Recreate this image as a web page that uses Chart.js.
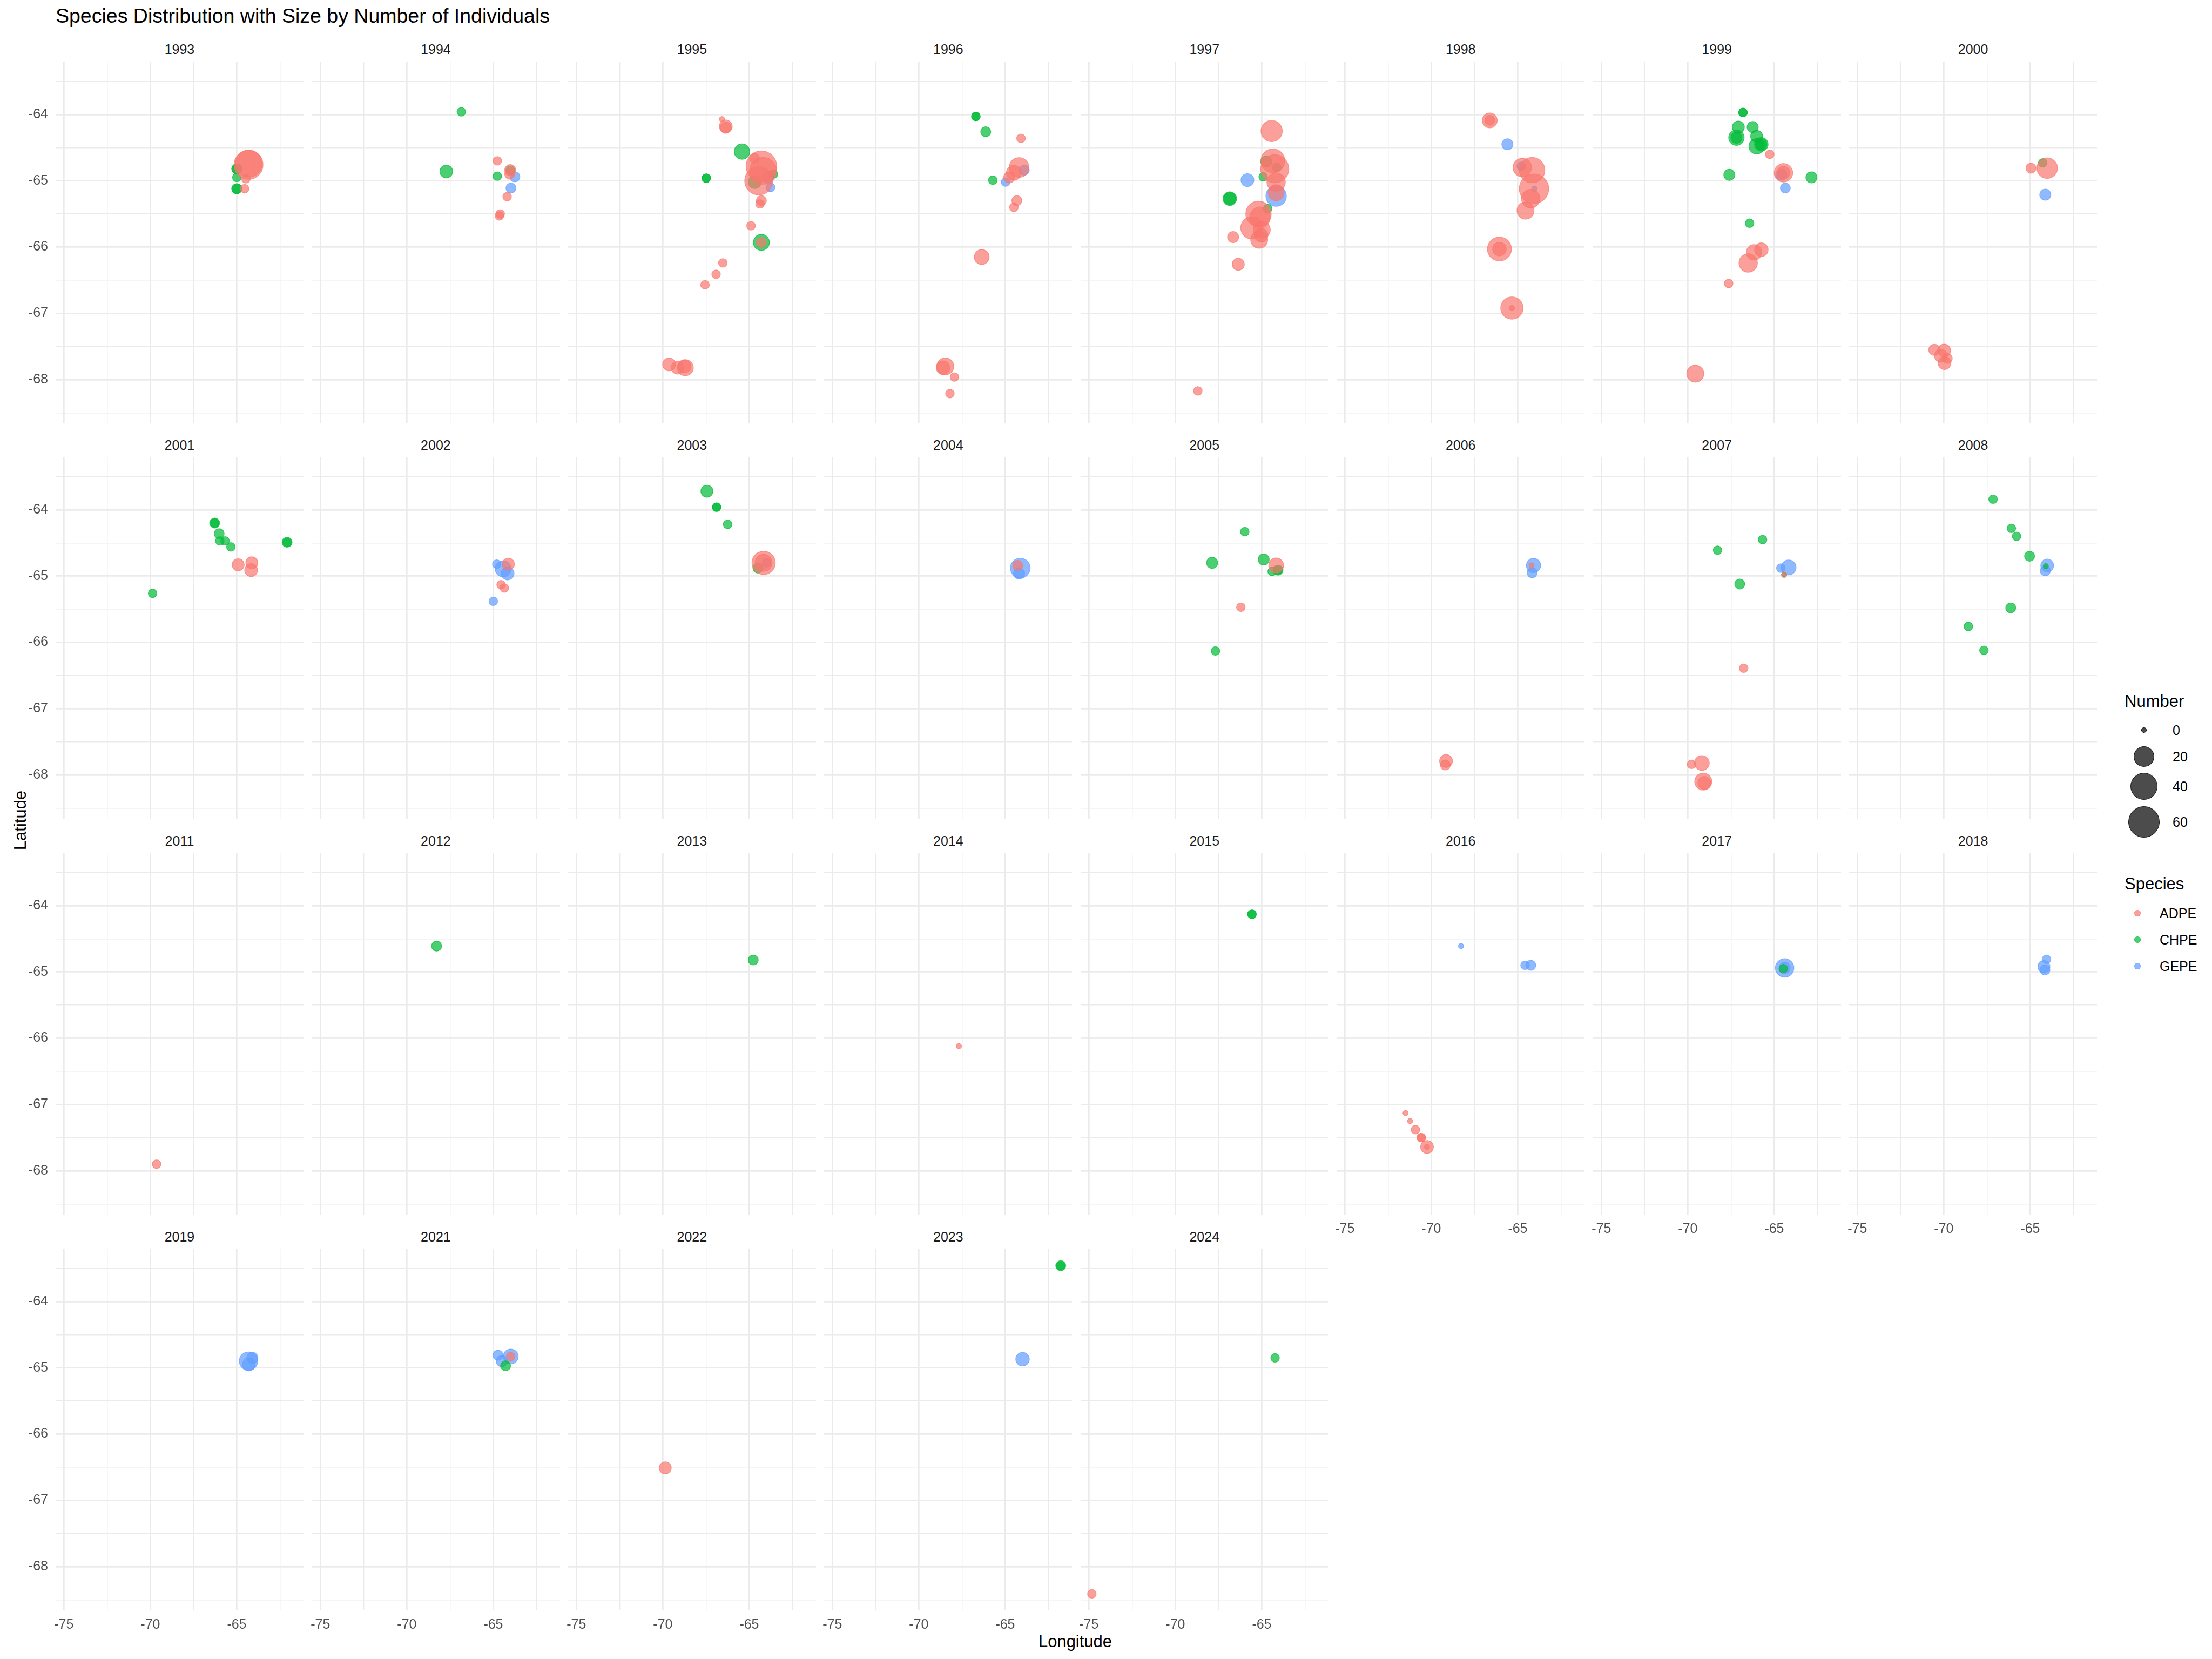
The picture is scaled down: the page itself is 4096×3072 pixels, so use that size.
<!DOCTYPE html>
<html><head><meta charset="utf-8">
<script src="https://cdn.jsdelivr.net/npm/chart.js@4.4.1/dist/chart.umd.min.js"></script>
<style>
html,body{margin:0;padding:0;background:#fff;}
#wrap{position:relative;width:4096px;height:3072px;overflow:hidden;background:#fff;font-family:"Liberation Sans",Arial,Helvetica,sans-serif;}
.t{position:absolute;white-space:nowrap;line-height:1;}
canvas{position:absolute;}
.key{position:absolute;border-radius:50%;box-sizing:border-box;}
</style></head><body><div id="wrap"></div>
<script>
// ---------------- DATA ----------------
const YEARS = [1993,1994,1995,1996,1997,1998,1999,2000,2001,2002,2003,2004,2005,2006,2007,2008,
               2011,2012,2013,2014,2015,2016,2017,2018,2019,2021,2022,2023,2024];
const SPECIES = ['ADPE','CHPE','GEPE'];
const LON_BREAKS = [-75,-70,-65];
const LON_MINOR = [-72.5,-67.5,-62.5];
const LAT_BREAKS = [-64,-65,-66,-67,-68];
const LAT_MINOR = [-63.5,-64.5,-65.5,-66.5,-67.5,-68.5];
const LON_LIMITS = [-75.48,-61.14];
const LAT_LIMITS = [-68.66,-63.21];
const SIZE_BREAKS = [0,20,40,60];

// [year, longitude, latitude, number]
const ADPE = [
 [1993,-64.32,-64.76,48],[1993,-64.30,-64.74,40],[1993,-64.55,-65.12,1],[1993,-64.47,-64.97,1],
 [1994,-64.77,-64.70,1],[1994,-64.02,-64.84,3],[1994,-64.05,-64.90,2],[1994,-64.20,-65.24,1],[1994,-64.60,-65.50,1],[1994,-64.65,-65.53,1],
 [1995,-66.58,-64.07,0],[1995,-66.36,-64.18,5],[1995,-66.36,-64.20,3],[1995,-64.30,-64.78,55],[1995,-64.45,-65.00,45],[1995,-64.20,-64.85,40],
 [1995,-64.70,-64.66,2],[1995,-64.30,-65.30,2],[1995,-64.38,-65.35,1],[1995,-64.90,-65.68,1],[1995,-64.30,-65.93,2],[1995,-66.53,-66.24,1],
 [1995,-66.92,-66.41,1],[1995,-67.56,-66.57,1],[1995,-69.64,-67.77,5],[1995,-69.15,-67.82,5],[1995,-68.70,-67.82,10],[1995,-68.75,-67.80,5],
 [1996,-64.09,-64.36,1],[1996,-64.20,-64.80,18],[1996,-64.50,-64.88,8],[1996,-64.77,-64.95,3],[1996,-64.33,-65.30,2],[1996,-64.50,-65.40,1],
 [1996,-66.36,-66.15,8],[1996,-68.47,-67.80,12],[1996,-68.60,-67.82,6],[1996,-67.94,-67.96,1],[1996,-68.20,-68.21,1],
 [1997,-64.43,-64.25,22],[1997,-64.25,-64.82,45],[1997,-64.36,-64.70,30],[1997,-64.17,-65.02,15],[1997,-64.17,-65.18,10],[1997,-65.19,-65.50,35],
 [1997,-65.10,-65.55,20],[1997,-65.57,-65.71,25],[1997,-65.00,-65.74,12],[1997,-65.04,-65.82,6],[1997,-65.15,-65.89,12],[1997,-66.66,-65.85,3],
 [1997,-66.36,-66.26,4],[1997,-68.70,-68.17,1],
 [1998,-66.62,-64.09,8],[1998,-66.62,-64.09,2],[1998,-64.74,-64.80,15],[1998,-64.17,-64.84,35],[1998,-64.06,-65.12,50],[1998,-64.25,-65.27,15],
 [1998,-64.55,-65.45,12],[1998,-66.06,-66.03,30],[1998,-66.06,-66.03,6],[1998,-65.34,-66.92,25],[1998,-65.34,-66.92,0],
 [1999,-65.26,-64.60,1],[1999,-64.47,-64.88,15],[1999,-64.47,-64.88,5],[1999,-65.75,-66.04,6],[1999,-66.17,-66.08,9],[1999,-66.51,-66.24,15],
 [1999,-67.64,-66.55,1],[1999,-69.57,-67.91,12],
 [2000,-64.96,-64.81,2],[2000,-64.02,-64.81,20],[2000,-70.55,-67.55,3],[2000,-69.98,-67.56,5],[2000,-70.17,-67.64,5],[2000,-69.96,-67.75,5],[2000,-69.80,-67.68,2],
 [2001,-64.92,-64.83,4],[2001,-64.13,-64.80,4],[2001,-64.17,-64.91,5],
 [2002,-64.13,-64.82,4],[2002,-64.55,-65.13,1],[2002,-64.36,-65.18,1],
 [2003,-64.17,-64.80,28],[2003,-64.17,-64.80,12],
 [2004,-64.28,-64.84,2],
 [2005,-64.17,-64.84,8],[2005,-66.21,-65.47,1],
 [2006,-64.20,-64.84,0],[2006,-69.15,-67.79,5],[2006,-69.19,-67.85,2],
 [2007,-64.43,-64.98,0],[2007,-66.77,-66.39,1],[2007,-69.19,-67.82,8],[2007,-69.79,-67.84,1],[2007,-69.11,-68.10,12],[2007,-69.05,-68.12,5],
 [2011,-69.64,-67.90,1],
 [2014,-67.68,-66.12,0],
 [2016,-71.49,-67.13,0],[2016,-71.23,-67.25,0],[2016,-70.92,-67.38,1],[2016,-70.58,-67.50,1],[2016,-70.58,-67.50,1],[2016,-70.25,-67.64,5],[2016,-70.25,-67.64,0],
 [2021,-63.99,-64.83,1],
 [2022,-69.86,-66.51,4],
 [2024,-74.83,-68.41,1]
];
const CHPE = [
 [1993,-65.00,-64.82,2],[1993,-65.00,-64.82,2],[1993,-65.00,-64.95,1],[1993,-65.00,-65.12,2],[1993,-65.00,-65.12,2],
 [1994,-66.85,-63.96,1],[1994,-67.72,-64.86,5],[1994,-64.77,-64.93,1],[1994,-64.02,-64.84,1],
 [1995,-65.42,-64.56,9],[1995,-67.49,-64.96,1],[1995,-67.49,-64.96,1],[1995,-64.68,-65.02,5],[1995,-63.60,-64.90,1],[1995,-64.30,-65.93,10],
 [1996,-66.70,-64.03,1],[1996,-66.70,-64.03,1],[1996,-66.13,-64.26,2],[1996,-65.72,-64.99,1],
 [1997,-64.74,-64.71,3],[1997,-64.13,-64.80,1],[1997,-64.92,-64.94,1],[1997,-66.85,-65.27,6],[1997,-66.85,-65.27,4],[1997,-64.66,-65.42,1],
 [1999,-66.81,-63.97,1],[1999,-66.81,-63.97,1],[1999,-67.08,-64.19,4],[1999,-66.25,-64.19,3],[1999,-67.19,-64.35,9],[1999,-67.19,-64.35,3],
 [1999,-66.02,-64.33,4],[1999,-66.02,-64.48,9],[1999,-65.75,-64.45,6],[1999,-65.75,-64.45,3],[1999,-67.60,-64.91,3],[1999,-62.85,-64.95,3],[1999,-66.43,-65.64,1],
 [2000,-64.28,-64.73,1],
 [2001,-66.28,-64.20,2],[2001,-66.28,-64.20,1],[2001,-66.02,-64.36,2],[2001,-65.98,-64.47,1],[2001,-65.68,-64.47,1],[2001,-65.34,-64.56,1],
 [2001,-62.09,-64.49,2],[2001,-62.09,-64.49,1],[2001,-69.87,-65.26,1],
 [2003,-67.45,-63.72,4],[2003,-66.89,-63.96,1],[2003,-66.89,-63.96,1],[2003,-66.25,-64.22,1],[2003,-64.50,-64.88,2],
 [2005,-65.98,-64.33,1],[2005,-67.87,-64.80,3],[2005,-64.89,-64.75,3],[2005,-64.40,-64.93,1],[2005,-64.06,-64.91,2],[2005,-64.06,-64.91,1],[2005,-67.68,-66.13,1],
 [2007,-65.68,-64.45,1],[2007,-68.28,-64.61,1],[2007,-67.00,-65.12,2],[2007,-64.43,-64.98,0],
 [2008,-67.15,-63.84,1],[2008,-66.09,-64.28,1],[2008,-65.79,-64.40,1],[2008,-65.04,-64.70,2],[2008,-66.13,-65.48,2],[2008,-68.58,-65.76,1],[2008,-67.68,-66.12,1],[2008,-64.10,-64.85,0],
 [2012,-68.28,-64.61,2],
 [2013,-64.77,-64.82,2],
 [2015,-65.57,-64.13,1],[2015,-65.57,-64.13,1],
 [2017,-64.48,-64.95,1],
 [2021,-64.29,-64.97,2],
 [2023,-61.79,-63.46,2],[2023,-61.79,-63.46,1],
 [2024,-64.23,-64.85,1]
];
const GEPE = [
 [1994,-63.75,-64.94,2],[1994,-63.98,-65.11,2],
 [1995,-63.77,-65.10,1],[1995,-63.90,-64.95,3],
 [1996,-63.90,-64.84,2],[1996,-64.98,-65.02,1],
 [1997,-65.83,-64.99,5],[1997,-64.17,-65.23,20],
 [1998,-65.60,-64.45,3],[1998,-64.80,-64.78,1],[1998,-64.04,-65.12,0],
 [1999,-64.60,-64.91,3],[1999,-64.36,-65.11,2],
 [2000,-64.13,-65.21,3],
 [2002,-64.43,-64.89,10],[2002,-64.80,-64.82,1],[2002,-64.17,-64.96,5],[2002,-65.00,-65.38,1],
 [2003,-64.00,-64.80,1],
 [2004,-64.13,-64.88,18],[2004,-64.20,-64.96,3],
 [2006,-64.09,-64.84,7],[2006,-64.17,-64.95,2],
 [2007,-64.17,-64.87,8],[2007,-64.62,-64.88,1],
 [2008,-64.02,-64.84,5],[2008,-64.13,-64.92,2],
 [2016,-68.28,-64.61,0],[2016,-64.25,-64.90,2],[2016,-64.58,-64.90,1],
 [2017,-64.40,-64.94,15],[2017,-64.40,-64.94,3],
 [2018,-64.06,-64.81,1],[2018,-64.21,-64.92,4],[2018,-64.15,-64.97,2],
 [2019,-64.32,-64.90,15],[2019,-64.10,-64.85,3],[2019,-64.30,-64.95,5],
 [2021,-64.73,-64.81,2],[2021,-63.99,-64.83,8],[2021,-64.51,-64.90,3],
 [2023,-64.00,-64.87,6]
];
const SPECIES_ROWS = [ADPE, CHPE, GEPE];

// ---------------- STYLE / LAYOUT ----------------
const S = 4096/6000;
const COLORS = ['248,118,109','0,186,56','97,156,255'];
const ALPHA = 0.7;
const FONT = '"Liberation Sans", Arial, Helvetica, sans-serif';
const NCOL = 8;
const P_X0 = 151, P_DX = 695, P_W = 672, P_Y0 = 168, P_DY = 1073.33, P_H = 980;
const R0 = 7.1, RK = 4.65;  // radius (reference px) = R0 + RK*sqrt(n)
function radius(n){ return S*(R0 + RK*Math.sqrt(Math.max(0,n))); }

const wrap = document.getElementById('wrap');
function addText(txt, x, y, size, color, opts={}){
  const d = document.createElement('div');
  d.className = 't';
  d.textContent = txt;
  d.style.fontSize = size + 'px';
  d.style.color = color;
  d.style.left = x + 'px';
  d.style.top = y + 'px';
  d.style.transform = opts.transform || 'translate(0,-50%)';
  wrap.appendChild(d);
  return d;
}

// Title & axis titles
addText('Species Distribution with Size by Number of Individuals', 103, 30, 37.5, '#000');
addText('Latitude', 37, 1519, 31, '#000', {transform:'translate(-50%,-50%) rotate(-90deg)'});
addText('Longitude', 1991, 3039, 31, '#000', {transform:'translate(-50%,-50%)'});

const lonGrid = [...LON_BREAKS, ...LON_MINOR].sort((a,b)=>a-b);
const latGrid = [...LAT_BREAKS, ...LAT_MINOR].sort((a,b)=>a-b);

YEARS.forEach((year, i) => {
  const row = Math.floor(i / NCOL), col = i % NCOL;
  const showY = col === 0;
  const showX = (i + NCOL) >= YEARS.length;
  const left = (P_X0 + P_DX*col)*S, top = (P_Y0 + P_DY*row)*S;
  const w = P_W*S, h = P_H*S;
  const padL = showY ? 110 : 40, padR = 40, padB = showX ? 60 : 0;

  addText(String(year), left + w/2, top - 34*S, 25, '#1A1A1A', {transform:'translate(-50%,-50%)'});

  const cv = document.createElement('canvas');
  cv.width = Math.round(w + padL + padR);
  cv.height = Math.round(h + padB);
  cv.style.left = (left - padL) + 'px';
  cv.style.top = top + 'px';
  cv.style.width = cv.width + 'px';
  cv.style.height = cv.height + 'px';
  wrap.appendChild(cv);

  const datasets = SPECIES.map((sp, k) => ({
    label: sp,
    data: SPECIES_ROWS[k].filter(r => r[0] === year).map(r => ({x: r[1], y: r[2], n: r[3]})),
    backgroundColor: `rgba(${COLORS[k]},${ALPHA})`,
    borderColor: `rgba(${COLORS[k]},${ALPHA})`,
    borderWidth: 1.3,
    pointRadius: ctx => radius(ctx.raw ? ctx.raw.n : 0),
    pointHoverRadius: ctx => radius(ctx.raw ? ctx.raw.n : 0)
  }));

  new Chart(cv, {
    type: 'scatter',
    data: {datasets},
    options: {
      responsive: false, animation: false, events: [],
      devicePixelRatio: 1,
      layout: {autoPadding: false, padding: {left: showY ? 0 : padL, right: padR, top: 0, bottom: 0}},
      plugins: {legend: {display: false}, tooltip: {enabled: false}, title: {display: false}},
      scales: {
        x: {
          type: 'linear', position: 'bottom', min: LON_LIMITS[0], max: LON_LIMITS[1], bounds: 'data',
          afterBuildTicks: s => { s.ticks = lonGrid.map(v => ({value: v})); },
          afterFit: s => { s.height = padB; s.paddingLeft = 0; s.paddingRight = 0; s.paddingTop = 0; s.paddingBottom = 0; },
          grid: {color: '#EBEBEB', drawTicks: false,
                 lineWidth: c => (c.tick && LON_BREAKS.includes(c.tick.value)) ? 2.7 : 1.4},
          border: {display: false},
          ticks: {display: showX, autoSkip: false, maxRotation: 0, minRotation: 0, padding: 12,
                  color: '#4D4D4D', font: {size: 25, family: FONT},
                  callback: v => LON_BREAKS.includes(v) ? String(v) : ''}
        },
        y: {
          type: 'linear', position: 'left', min: LAT_LIMITS[0], max: LAT_LIMITS[1], bounds: 'data',
          afterBuildTicks: s => { s.ticks = latGrid.map(v => ({value: v})); },
          afterFit: s => { s.width = showY ? padL : 0; s.paddingTop = 0; s.paddingBottom = 0; s.paddingLeft = 0; s.paddingRight = 0; },
          grid: {color: '#EBEBEB', drawTicks: false,
                 lineWidth: c => (c.tick && LAT_BREAKS.includes(c.tick.value)) ? 2.7 : 1.4},
          border: {display: false},
          ticks: {display: showY, autoSkip: false, padding: 14,
                  color: '#4D4D4D', font: {size: 25, family: FONT},
                  callback: v => LAT_BREAKS.includes(v) ? String(v) : ''}
        }
      }
    }
  });
});

// ---------------- LEGENDS ----------------
addText('Number', 3934, 1298, 31, '#000');
const sizeRowsY = [1352, 1401, 1456, 1522];
SIZE_BREAKS.forEach((b, j) => {
  const r = radius(b);
  const d = document.createElement('div');
  d.className = 'key';
  d.style.width = d.style.height = (2*r) + 'px';
  d.style.left = (3970 - r) + 'px';
  d.style.top = (sizeRowsY[j] - r) + 'px';
  d.style.background = 'rgba(0,0,0,0.7)';
  d.style.border = '1.3px solid rgba(0,0,0,0.7)';
  wrap.appendChild(d);
  addText(String(b), 4023, sizeRowsY[j], 25, '#000');
});
addText('Species', 3934, 1636, 31, '#000');
const spRowsY = [1691, 1740, 1789];
SPECIES.forEach((sp, k) => {
  const r = 6.4;
  const d = document.createElement('div');
  d.className = 'key';
  d.style.width = d.style.height = (2*r) + 'px';
  d.style.left = (3958 - r) + 'px';
  d.style.top = (spRowsY[k] - r) + 'px';
  d.style.background = `rgba(${COLORS[k]},${ALPHA})`;
  d.style.border = `1.3px solid rgba(${COLORS[k]},${ALPHA})`;
  wrap.appendChild(d);
  addText(sp, 3999, spRowsY[k], 25, '#000');
});
</script>
</body></html>
